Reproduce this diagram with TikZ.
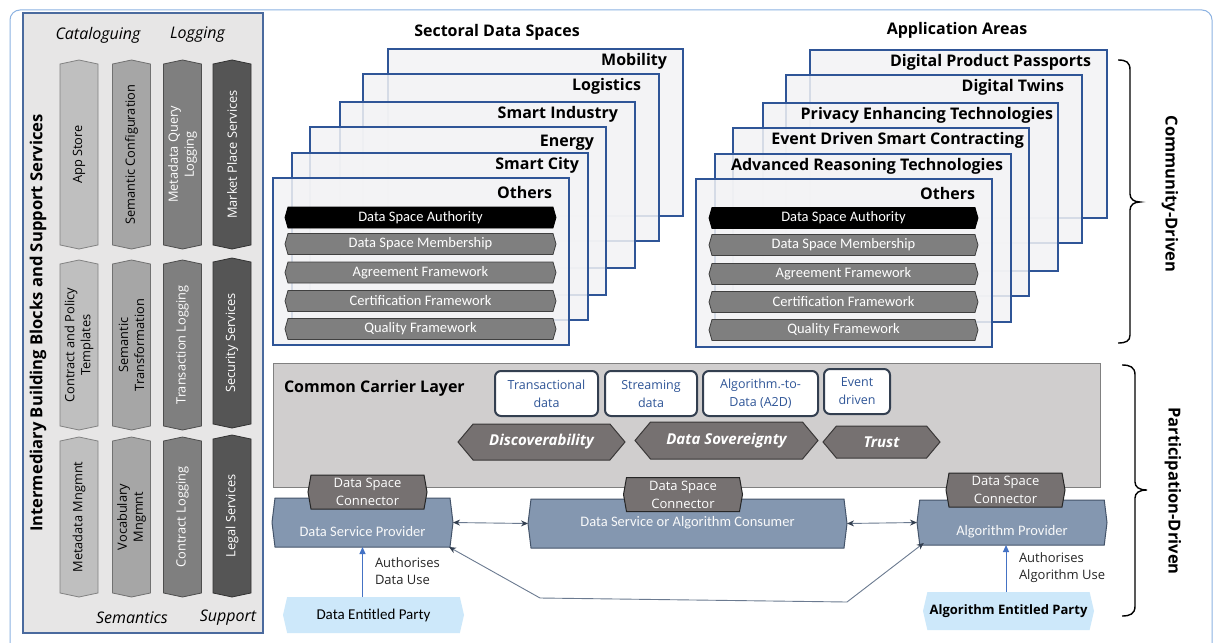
\documentclass[tikz,border=0pt]{standalone}
\usepackage{fontspec}
\setmainfont{Open Sans}
\newfontfamily\carl{Carlito}
\usetikzlibrary{shapes.symbols,arrows.meta}
\newcommand{\fsz}[2]{\fontsize{#1}{#2}\selectfont}

\definecolor{outerline}{HTML}{8DB3E2}
\definecolor{panelfill}{HTML}{E7E6E6}
\definecolor{panelline}{HTML}{4A6A9E}
\definecolor{cAfill}{HTML}{BFBFBF}
\definecolor{cBfill}{HTML}{A6A6A6}
\definecolor{cCfill}{HTML}{7F7F7F}
\definecolor{cDfill}{HTML}{555555}
\definecolor{cline}{HTML}{4D4D4D}
\definecolor{frameblue}{HTML}{2F5597}
\definecolor{framefill}{HTML}{F3F3F5}
\definecolor{barfill}{HTML}{7F7F7F}
\definecolor{barline}{HTML}{404040}
\definecolor{carrierfill}{HTML}{D0CECE}
\definecolor{carrierline}{HTML}{808080}
\definecolor{chevfill}{HTML}{767171}
\definecolor{chevline}{HTML}{3A3838}
\definecolor{boxline}{HTML}{333F50}
\definecolor{boxtext}{HTML}{2F5597}
\definecolor{provfill}{HTML}{8497B0}
\definecolor{provline}{HTML}{44546A}
\definecolor{partyfill}{HTML}{CDE8FA}
\definecolor{linkline}{HTML}{6B7A90}
\definecolor{linktip}{HTML}{333F50}
\definecolor{authblue}{HTML}{4472C4}

\begin{document}
\begin{tikzpicture}[x=1pt,y=-1pt,
  every node/.style={inner sep=1pt,outer sep=0pt},
  % vertical building-block pillars of the left panel
  colbox/.style={shape=signal, signal to=east and west, signal pointer angle=156,
    rotate=90, minimum height=38pt, line width=0.8pt, align=center, font=\fsz{12.8}{16}},
  colA/.style={colbox, fill=cAfill, draw=cline!70, text=black},
  colB/.style={colbox, fill=cBfill, draw=cline!80, text=black},
  colC/.style={colbox, fill=cCfill, draw=cline, text=white},
  colD/.style={colbox, fill=cDfill, draw=black!80, text=white},
  panelhead/.style={font=\itshape\fsz{16}{18}},
  % stacked data-space frames
  dsframe/.style={draw=frameblue, line width=1.5pt, fill=framefill, fill opacity=0.85},
  framelabel/.style={anchor=east, font=\bfseries\fsz{16}{18}},
  stackhead/.style={font=\bfseries\fsz{16}{18}},
  fwbar/.style={shape=signal, signal to=east and west, signal pointer angle=148,
    minimum height=21pt, fill=barfill, draw=barline, line width=0.8pt,
    text=white, font=\carl\fsz{14.5}{16}},
  authbar/.style={fwbar, fill=black, draw=black},
  % common carrier layer
  modebox/.style={draw=boxline, line width=2pt, rounded corners=6pt, fill=white,
    text=boxtext, align=center, font=\fsz{12.5}{18}, minimum height=45pt},
  pillar/.style={shape=signal, signal to=east and west, signal pointer angle=100,
    fill=chevfill, draw=chevline, line width=1pt, text=white,
    font=\bfseries\itshape\fsz{15}{16}},
  connbox/.style={shape=signal, signal to=east and west, signal pointer angle=160,
    fill=chevfill, draw=black!85, line width=1pt, text=white, align=center,
    font=\fsz{13}{18}, minimum width=119pt, minimum height=34pt},
  % participants
  prov/.style={shape=signal, signal to=east and west, signal pointer angle=166,
    fill=provfill, draw=provline, line width=1pt},
  provtext/.style={text=white!94!provfill, font=\carl\fsz{14.5}{16}},
  partybox/.style={shape=signal, signal to=east and west, signal pointer angle=154,
    fill=partyfill, draw=none, text=black},
  authtext/.style={anchor=west, align=left, font=\fsz{13}{17}, text=black!85},
  link/.style={draw=linkline, line width=0.9pt,
    {Stealth[length=7pt,width=6pt,color=linktip]}-{Stealth[length=7pt,width=6pt,color=linktip]}},
  authlink/.style={draw=authblue, line width=1pt, -{Triangle[length=7pt,width=6pt]}},
  bracepath/.style={draw=black, line width=1.4pt},
  sidelabel/.style={font=\bfseries\fsz{16.5}{18}, rotate=-90}
]
\useasboundingbox (0,0) rectangle (1214,642);
\clip (0,0) rectangle (1214,642);
\fill[white] (0,0) rectangle (1214,642);

% outer frame
\draw[outerline, line width=1pt, rounded corners=10pt] (10,10) rectangle (1212,660);

% ---------------- left panel ----------------
\draw[panelline, fill=panelfill, line width=1.3pt] (23,13) rectangle (263,633);
\node[panelhead] (catal) at (98,35) {Cataloguing};
\node[panelhead] (logg) at (197.5,35) {Logging};
\node[panelhead] (sema) at (132,618) {Semantics};
\node[panelhead] (supp) at (228,618) {Support};
\node[font=\bfseries\fsz{16.6}{18}, rotate=90] (ibb) at (38,323)
  {Intermediary Building Blocks and Support Services};

\node[colA, minimum width=189pt] (appstore) at (79,154.5) {App Store};
\node[colA, minimum width=170pt] (cpt) at (79,345) {Contract and Policy\\Templates};
\node[colA, minimum width=160pt] (mdm) at (79,517) {Metadata Mngmnt};

\node[colB, minimum width=189pt] (semconf) at (131.5,154.5) {Semantic Configuration};
\node[colB, minimum width=170pt] (semtr) at (131.5,345) {Semantic\\Transformation};
\node[colB, minimum width=160pt] (vocm) at (131.5,517) {Vocabulary\\Mngmnt};

\node[colC, minimum width=189pt] (mql) at (182.5,154.5) {Metadata Query\\Logging};
\node[colC, minimum width=170pt] (trl) at (182.5,345) {Transaction Logging};
\node[colC, minimum width=160pt] (col) at (182.5,517) {Contract Logging};

\node[colD, minimum width=189pt] (mps) at (232,154.5) {Market Place Services};
\node[colD, minimum width=170pt] (secs) at (232,343) {Security Services};
\node[colD, minimum width=162pt] (legs) at (232,516) {Legal Services};

% ---------------- sectoral data spaces ----------------
\node[stackhead] (sdsh) at (497,32) {Sectoral Data Spaces};
\path[dsframe] (388,49) rectangle (683,216);
\node[framelabel] (smob) at (668,61) {Mobility};
\path[dsframe] (363,74) rectangle (659,241);
\node[framelabel] (slog) at (642,86) {Logistics};
\path[dsframe] (340,102) rectangle (635,268);
\node[framelabel] (sind) at (619,114) {Smart Industry};
\path[dsframe] (310,127) rectangle (606,295);
\node[framelabel] (sene) at (595,143) {Energy};
\path[dsframe] (292,153) rectangle (588,320);
\node[framelabel] (scit) at (580,165) {Smart City};
\path[dsframe] (273,178) rectangle (569,345);
\node[framelabel] (soth) at (553,192) {Others};

\node[authbar, minimum width=271pt] (sauth) at (420.5,217.5) {Data Space Authority};
\node[fwbar, minimum width=271pt] (smem) at (420.5,244) {Data Space Membership};
\node[fwbar, minimum width=271pt] (sagr) at (420.5,272.5) {Agreement Framework};
\node[fwbar, minimum width=271pt] (scer) at (420.5,301) {Certification Framework};
\node[fwbar, minimum width=271pt] (squa) at (420.5,329) {Quality Framework};

% ---------------- application areas ----------------
\node[stackhead] (aah) at (957,30) {Application Areas};
\path[dsframe] (810,50) rectangle (1107,218);
\node[framelabel] (adpp) at (1092,62) {Digital Product Passports};
\path[dsframe] (786,75) rectangle (1082,243);
\node[framelabel] (adt) at (1065,87) {Digital Twins};
\path[dsframe] (763,103) rectangle (1058,271);
\node[framelabel] (apet) at (1054,115) {Privacy Enhancing Technologies};
\path[dsframe] (733,128) rectangle (1029,296);
\node[framelabel] (aeds) at (1025,140) {Event Driven Smart Contracting};
\path[dsframe] (715,154) rectangle (1011,322);
\node[framelabel] (aart) at (1004,166) {Advanced Reasoning Technologies};
\path[dsframe] (696,179) rectangle (992,347);
\node[framelabel] (aoth) at (976,193) {Others};

\node[authbar, minimum width=269pt] (aauth) at (843.5,218) {Data Space Authority};
\node[fwbar, minimum width=269pt] (amem) at (843.5,245) {Data Space Membership};
\node[fwbar, minimum width=269pt] (aagr) at (843.5,274) {Agreement Framework};
\node[fwbar, minimum width=269pt] (acer) at (843.5,302) {Certification Framework};
\node[fwbar, minimum width=269pt] (aqua) at (843.5,330) {Quality Framework};

% ---------------- common carrier layer ----------------
\node[draw=carrierline, fill=carrierfill, line width=1pt,
  minimum width=827pt, minimum height=124pt] (carrier) at (686.5,425) {};
\node[anchor=west, font=\bfseries\fsz{16}{18}] (cclh) at (283,388) {Common Carrier Layer};

\node[modebox, minimum width=103pt] (trans) at (546.5,393.5) {Transactional\\data};
\node[modebox, minimum width=92pt] (strm) at (651,393.5) {Streaming\\data};
\node[modebox, minimum width=115pt] (a2d) at (760.5,393.5) {Algorithm.-to-\\Data (A2D)};
\node[modebox, minimum width=66pt] (evd) at (857,391.5) {Event\\driven};

\node[pillar, minimum width=167pt, minimum height=36pt] (disc) at (541.5,442) {Discoverability};
\node[pillar, minimum width=183pt, minimum height=37pt] (sov) at (726.5,440.5) {Data Sovereignty};
\node[pillar, minimum width=117pt, minimum height=32pt] (trust) at (881.5,442) {Trust};

% ---------------- participants ----------------
\node[prov, minimum width=181pt, minimum height=49pt] (dsp) at (362.5,522.5) {};
\node[provtext] (dsptext) at (362.5,532) {Data Service Provider};
\node[prov, minimum width=319pt, minimum height=49pt] (dsc) at (687.5,523.5) {};
\node[provtext] (dsctext) at (687.5,523) {Data Service or Algorithm Consumer};
\node[prov, minimum width=190pt, minimum height=45pt] (ap) at (1012,522.5) {};
\node[provtext] (aptext) at (1012,532) {Algorithm Provider};

\node[connbox] (conn1) at (367.5,492) {Data Space\\Connector};
\node[connbox] (conn2) at (683,494.5) {Data Space\\Connector};
\node[connbox] (conn3) at (1005.5,490) {Data Space\\Connector};

\node[partybox, minimum width=181pt, minimum height=36pt, font=\carl\fsz{15}{16}]
  (dep) at (373.5,615) {Data Entitled Party};
\node[partybox, minimum width=171pt, minimum height=38pt, font=\bfseries\fsz{13}{16}]
  (aep) at (1008.5,611) {Algorithm Entitled Party};

% exchanges between participants
\draw[link] (dsp.east) -- (dsc.west);
\draw[link] (dsc.east) -- (ap.west);
\coordinate (lowL) at (540,598);
\coordinate (lowR) at (847,602);
\draw[link] ([xshift=-1pt]dsp.south east) -- (lowL) -- (lowR) -- ([xshift=4pt,yshift=2pt]ap.south west);

% authorisation by the entitled parties
\draw[authlink] (dep.north -| dsp.south) -- (dsp.south);
\node[authtext] (authd) at (374,571.5) {Authorises\\Data Use};
\draw[authlink] ([xshift=-2.5pt]aep.north) -- ([xshift=-2.5pt]aep.north |- ap.south);
\node[authtext] (autha) at (1018,568) {Authorises\\Algorithm Use};

% ---------------- braces ----------------
\draw[bracepath] (1118,60) .. controls (1126,60) and (1130,62) .. (1130,70) -- (1130,194)
  .. controls (1130,199) and (1134,202) .. (1140,202)
  .. controls (1134,202) and (1130,205) .. (1130,210) -- (1130,335)
  .. controls (1130,341) and (1126,343) .. (1118,343);
\node[sidelabel] (cdriven) at (1170,194) {Community-Driven};

\draw[bracepath] (1122,365) .. controls (1130,365) and (1135,367) .. (1135,375) -- (1135,482)
  .. controls (1135,487) and (1139,490) .. (1147,490)
  .. controls (1139,490) and (1135,493) .. (1135,498) -- (1135,606)
  .. controls (1135,614) and (1130,616) .. (1122,616);
\node[sidelabel] (pdriven) at (1173,491) {Participation-Driven};
\end{tikzpicture}
\end{document}
